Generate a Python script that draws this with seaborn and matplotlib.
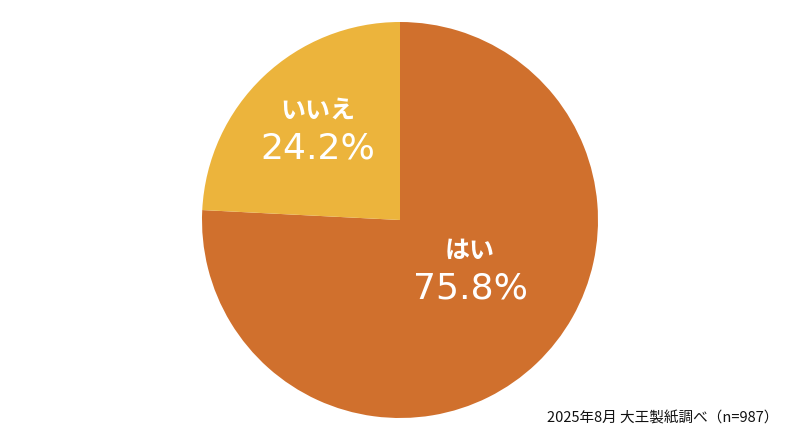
import matplotlib
matplotlib.use("Agg")
import matplotlib.pyplot as plt
import seaborn as sns

# data
labels = ["はい", "いいえ"]
values = [75.8, 24.2]
colors = ["#D0702D", "#ECB43C"]
note = "2025年8月 大王製紙調べ（n=987）"

sns.set_theme(style="white")
plt.rcParams["font.family"] = ["Noto Sans CJK JP", "DejaVu Sans"]

fig = plt.figure(figsize=(8, 4.4), dpi=100)
ax = fig.add_axes([0, 0, 1, 1])

cx, cy, r = 400, 220, 198
wedges, _ = ax.pie(values, colors=colors, startangle=90, counterclock=False,
                   center=(cx, cy), radius=r, frame=True,
                   wedgeprops=dict(linewidth=0))
ax.set_xlim(0, 800)
ax.set_ylim(0, 440)
ax.set_aspect("equal")
ax.axis("off")

# label anchor (pixel space, y up)
anchors = [(470, 173), (318, 313)]
for lab, v, (x, y) in zip(labels, values, anchors):
    ax.text(x, y + 16, lab, color="white", fontsize=18, fontweight="bold",
            ha="center", va="center")
    ax.text(x, y - 21, f"{v}%", color="white", fontsize=26,
            family=["DejaVu Sans"], ha="center", va="center")

ax.text(778, 22, note, fontsize=10.5, ha="right", va="center", color="#111111")

fig.savefig("out.png", dpi=100)
